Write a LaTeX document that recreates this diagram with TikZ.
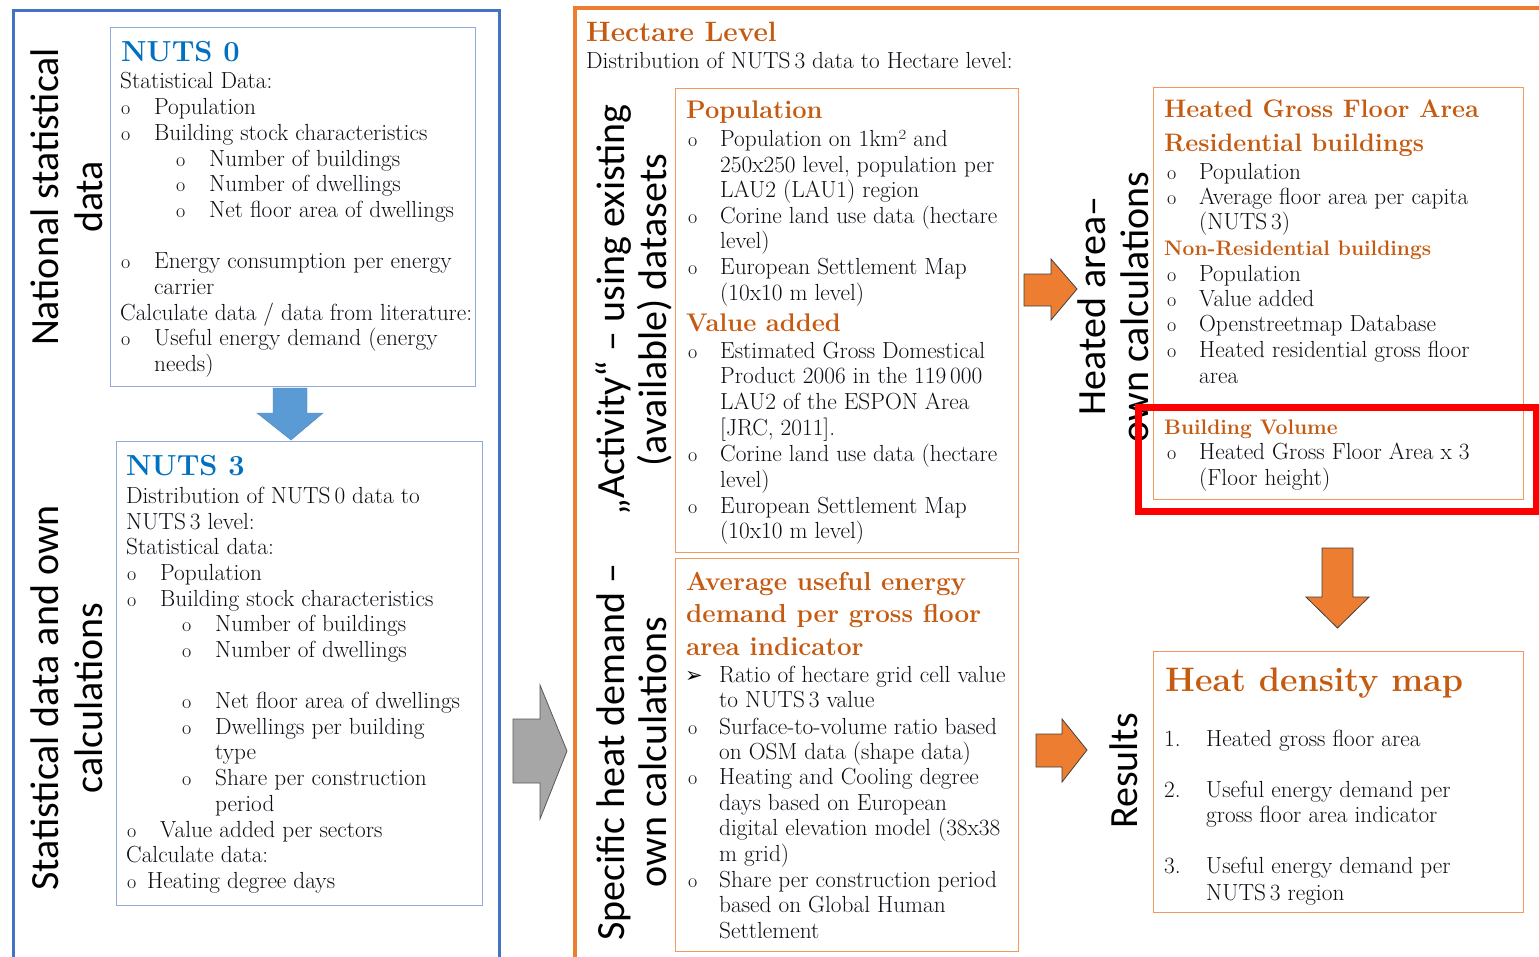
\documentclass[tikz,border=0pt]{standalone}
\usepackage{fontspec}
\newfontfamily\labfont{Carlito}
\newfontfamily\dingfont{DejaVu Sans}

\definecolor{frameblue}{HTML}{4472C4}
\definecolor{boxblue}{HTML}{8FAADC}
\definecolor{titleblue}{HTML}{0070C0}
\definecolor{arrowblue}{HTML}{5B9BD5}
\definecolor{frameorange}{HTML}{ED7D31}
\definecolor{boxorange}{HTML}{F29A5E}
\definecolor{titleorange}{HTML}{C55A11}
\definecolor{arrowgray}{HTML}{A6A6A6}
\definecolor{bodytext}{HTML}{0C0C14}

\tikzset{
  body/.style={anchor=base west, inner sep=0pt, text=bodytext, font=\fontsize{23.3}{28}\selectfont},
  bul/.style={anchor=base west, inner sep=0pt, text=bodytext, font=\fontsize{20}{24}\selectfont},
  ding/.style={anchor=base west, inner sep=0pt, font=\fontsize{21}{25}\dingfont},
  bluetitle/.style={anchor=base west, inner sep=0pt, text=titleblue, font=\fontsize{29}{35}\selectfont\bfseries},
  ortitle/.style={anchor=base west, inner sep=0pt, text=titleorange, font=\fontsize{#1}{#1}\selectfont\bfseries},
  vlabel/.style={anchor=base, inner sep=0pt, rotate=90, font=\fontsize{40}{44}\labfont},
  bluebox/.style={anchor=north west, draw=boxblue, line width=1.3pt, inner sep=0pt},
  orbox/.style={anchor=north west, draw=boxorange, line width=1.2pt, inner sep=0pt},
  orarrow/.style={fill=frameorange, draw=black!75, line width=0.8pt},
}

\newcounter{tn}
% plain text line: x, baseline y, text
\newcommand\Ln[3]{\stepcounter{tn}\node[body] (ln\arabic{tn}) at (#1,#2) {#3};}
% bulleted line: bullet x, text x, baseline y, text
\newcommand\It[4]{\stepcounter{tn}\node[bul] (bu\arabic{tn}) at (#1,#3) {o};\node[body] (ln\arabic{tn}) at (#2,#3) {#4};}

\begin{document}
\begin{tikzpicture}[x=1pt, y=-1pt]
\useasboundingbox[fill=white] (0,0) rectangle (1539,956);

% outer frames
\draw[frameblue, line width=3pt] (13,970) -- (13,10) -- (499,10) -- (499,970);
\draw[frameorange, line width=4pt] (575,970) -- (575,8) -- (1550,8);

% boxes
\node[bluebox, minimum width=365pt, minimum height=359pt] (nuts0) at (110,27) {};
\node[bluebox, minimum width=366pt, minimum height=464pt] (nuts3) at (116,441) {};
\node[orbox, minimum width=343pt, minimum height=464pt] (popbox) at (675,88) {};
\node[orbox, minimum width=343pt, minimum height=393pt] (avgbox) at (675,558) {};
\node[orbox, minimum width=370pt, minimum height=412pt] (gfabox) at (1153,87) {};
\node[orbox, minimum width=370pt, minimum height=261pt] (mapbox) at (1153,651) {};

% side labels
\node[vlabel] (lab1a) at (58,197) {National statistical};
\node[vlabel] (lab1b) at (102,197) {data};
\node[vlabel] (lab2a) at (58,698) {Statistical data and own};
\node[vlabel] (lab2b) at (102,698) {calculations};
\node[vlabel] (lab3a) at (624,310) {„Activity“ – using existing};
\node[vlabel] (lab3b) at (666,310) {(available) datasets};
\node[vlabel] (lab4a) at (624,752) {Specific heat demand –};
\node[vlabel] (lab4b) at (666,752) {own calculations};
\node[vlabel] (lab5a) at (1105,306) {Heated area–};
\node[vlabel] (lab5b) at (1148,307) {own calculations};
\node[vlabel] (lab6) at (1137,771) {Results};

% NUTS 0
\node[bluetitle] (t0) at (121,61) {NUTS 0};
\Ln{120}{88}{Statistical Data:}
\It{121}{154}{114}{Population}
\It{121}{154}{140}{Building stock characteristics}
\It{176}{209}{166}{Number of buildings}
\It{176}{209}{191}{Number of dwellings}
\It{176}{209}{217}{Net floor area of dwellings}
\It{121}{154}{268}{Energy consumption per energy}
\Ln{154}{294}{carrier}
\Ln{120}{320}{Calculate data / data from literature:}
\It{121}{154}{345}{Useful energy demand (energy}
\Ln{154}{371}{needs)}

% NUTS 3
\node[bluetitle] (t3) at (126,475) {NUTS 3};
\Ln{126}{503}{Distribution of NUTS\,0 data to}
\Ln{126}{529}{NUTS\,3 level:}
\Ln{126}{554}{Statistical data:}
\It{127}{160}{580}{Population}
\It{127}{160}{606}{Building stock characteristics}
\It{182}{215}{631}{Number of buildings}
\It{182}{215}{657}{Number of dwellings}
\It{182}{215}{708}{Net floor area of dwellings}
\It{182}{215}{734}{Dwellings per building}
\Ln{215}{759}{type}
\It{182}{215}{785}{Share per construction}
\Ln{215}{811}{period}
\It{127}{160}{837}{Value added per sectors}
\Ln{126}{862}{Calculate data:}
\It{127}{147}{888}{Heating degree days}

% hectare level
\node[ortitle=28] (th) at (586,41) {Hectare Level};
\Ln{586}{68}{Distribution of NUTS\,3 data to Hectare level:}

% population / value added
\node[ortitle=25.5] (tp) at (686,118) {Population};
\It{688}{720}{146}{Population on 1km² and}
\Ln{720}{172}{250x250 level, population per}
\Ln{720}{197}{LAU2 (LAU1) region}
\It{688}{720}{223}{Corine land use data (hectare}
\Ln{720}{248}{level)}
\It{688}{720}{274}{European Settlement Map}
\Ln{720}{300}{(10x10 m level)}
\node[ortitle=25.5] (tv) at (686,331) {Value added};
\It{688}{720}{358}{Estimated Gross Domestical}
\Ln{720}{383}{Product 2006 in the 119\,000}
\Ln{720}{409}{LAU2 of the ESPON Area}
\Ln{720}{435}{[JRC, 2011].}
\It{688}{720}{461}{Corine land use data (hectare}
\Ln{720}{487}{level)}
\It{688}{720}{513}{European Settlement Map}
\Ln{720}{538}{(10x10 m level)}

% average useful energy demand
\node[ortitle=26] (ta1) at (686,590) {Average useful energy};
\node[ortitle=26] (ta2) at (686,622) {demand per gross floor};
\node[ortitle=26] (ta3) at (686,655) {area indicator};
\node[ding] (ar1) at (685,682) {➢};
\Ln{719}{682}{Ratio of hectare grid cell value}
\Ln{719}{707}{to NUTS\,3 value}
\It{688}{719}{734}{Surface-to-volume ratio based}
\Ln{719}{759}{on OSM data (shape data)}
\It{688}{719}{784}{Heating and Cooling degree}
\Ln{719}{810}{days based on European}
\Ln{719}{835}{digital elevation model (38x38}
\Ln{719}{861}{m grid)}
\It{688}{719}{887}{Share per construction period}
\Ln{719}{912}{based on Global Human}
\Ln{719}{938}{Settlement}

% heated gross floor area
\node[ortitle=25.3] (tg1) at (1164,117) {Heated Gross Floor Area};
\node[ortitle=25.3] (tg2) at (1164,151) {Residential buildings};
\It{1167}{1199}{179}{Population}
\It{1167}{1199}{204}{Average floor area per capita}
\Ln{1199}{229}{(NUTS\,3)}
\node[ortitle=21] (tg3) at (1164,255) {Non-Residential buildings};
\It{1167}{1199}{281}{Population}
\It{1167}{1199}{306}{Value added}
\It{1167}{1199}{331}{Openstreetmap Database}
\It{1167}{1199}{357}{Heated residential gross floor}
\Ln{1199}{383}{area}
\node[ortitle=21] (tg4) at (1164,434) {Building Volume};
\It{1167}{1199}{459}{Heated Gross Floor Area x 3}
\Ln{1199}{485}{(Floor height)}

% heat density map
\node[ortitle=34] (tm) at (1165,691) {Heat density map};
\Ln{1164}{746}{1.}
\Ln{1206}{746}{Heated gross floor area}
\Ln{1164}{797}{2.}
\Ln{1206}{797}{Useful energy demand per}
\Ln{1206}{822}{gross floor area indicator}
\Ln{1164}{873}{3.}
\Ln{1206}{873}{Useful energy demand per}
\Ln{1206}{900}{NUTS\,3 region}

% block arrows
\fill[arrowblue, draw=arrowblue!85!black, line width=0.4pt]
  (273,388) -- (307,388) -- (307,413) -- (323,413) -- (291,440) -- (257,413) -- (273,413) -- cycle;
\draw[fill=arrowgray, draw=black!65, line width=0.8pt]
  (513,719) -- (540,719) -- (540,685) -- (567,751) -- (540,819) -- (540,783) -- (513,783) -- cycle;
\draw[orarrow]
  (1024,274) -- (1051,274) -- (1051,259) -- (1077,289) -- (1051,320) -- (1051,306) -- (1024,306) -- cycle;
\draw[orarrow]
  (1322,548) -- (1353,548) -- (1353,597) -- (1369,597) -- (1337.5,628) -- (1306,597) -- (1322,597) -- cycle;
\draw[orarrow]
  (1036,734) -- (1062,734) -- (1062,719) -- (1087,750) -- (1062,782) -- (1062,767) -- (1036,767) -- cycle;

% highlight frame
\node[anchor=north west, draw=red, line width=7pt, inner sep=0pt,
      minimum width=398pt, minimum height=104pt] (focus) at (1135,404) {};
\end{tikzpicture}
\end{document}
